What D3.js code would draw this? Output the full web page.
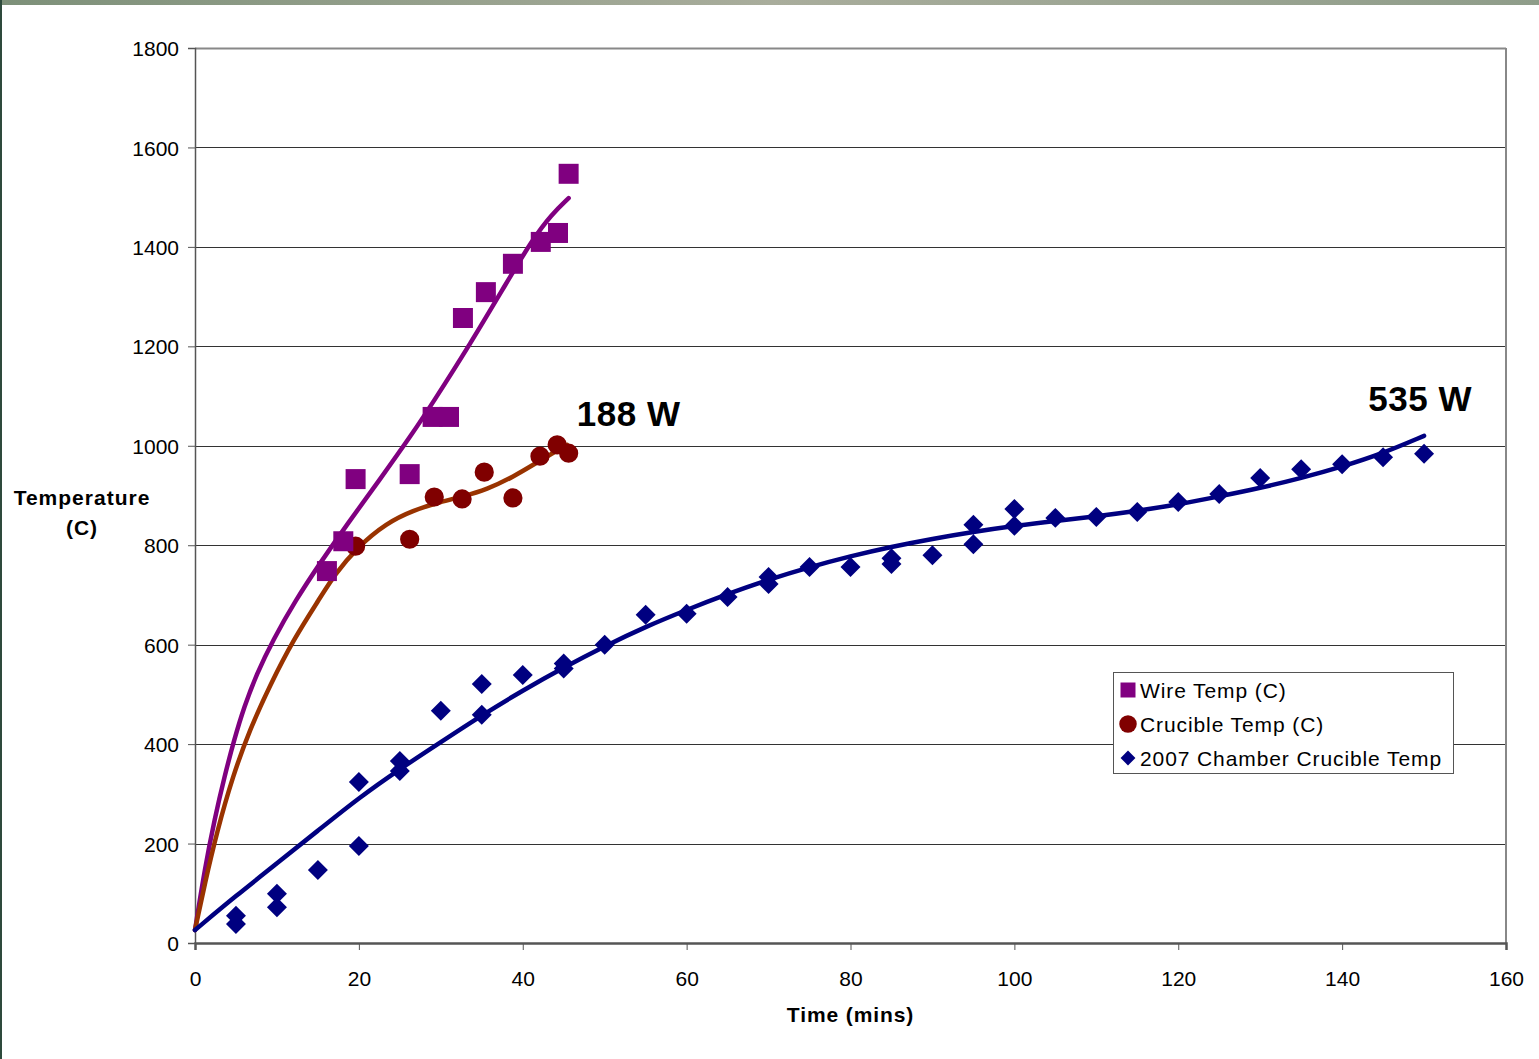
<!DOCTYPE html>
<html>
<head>
<meta charset="utf-8">
<script src="https://cdn.jsdelivr.net/npm/d3@7"></script>
<style>
  html, body { margin: 0; padding: 0; background: #fff; }
  svg { display: block; font-family: "Liberation Sans", Arial, sans-serif; }
</style>
</head>
<body>
<div id="chart"></div>
<script>
// measured points
const wireTemp = [
  [16.1, 748], [18.1, 808], [19.6, 933], [26.2, 943], [29.0, 1058], [31.0, 1058],
  [32.7, 1257], [35.5, 1309], [38.8, 1366], [42.2, 1410], [44.3, 1428], [45.6, 1547]
];
const crucibleTemp = [
  [19.6, 798], [26.2, 812], [29.2, 897], [32.6, 893], [35.3, 947],
  [38.8, 895], [42.1, 979], [44.2, 1002], [45.6, 985]
];
const chamberTemp = [
  [5, 55], [5, 38], [10, 99], [10, 72], [15, 147], [20, 195], [20, 324],
  [25, 366], [25, 346], [30, 467], [35, 521], [35, 459], [40, 539],
  [45, 552], [45, 562], [50, 600], [55, 660], [60, 662], [65, 696],
  [70, 736], [70, 722], [75, 756], [80, 756], [85, 774], [85, 762],
  [90, 780], [95, 841], [95, 802], [100, 873], [100, 839], [105, 855],
  [110, 857], [115, 867], [120, 887], [125, 903], [130, 935], [135, 953],
  [140, 963], [145, 977], [150, 984]
];

// trendlines
const wireTrend = [
  [0, 26], [1.2, 150], [2.4, 250], [3.6, 335], [4.8, 410], [6.0, 475], [7.5, 540],
  [9.5, 609], [12.3, 690], [15.3, 765], [18.6, 843], [22.6, 933], [26.6, 1026],
  [29.0, 1086], [33.6, 1205], [38.1, 1330], [41.2, 1415], [43.5, 1465], [45.6, 1498]
];
const crucibleTrend = [
  [0, 26], [1.2, 120], [2.7, 225], [4.6, 335], [6.7, 430], [9.2, 520], [12.0, 610],
  [15.3, 695], [17.0, 740], [19.8, 796], [23.4, 845], [26.6, 870], [29.9, 887],
  [32.7, 898], [35.6, 912], [38.8, 937], [42.1, 970], [45.4, 1002]
];
const chamberTrend = [
  [0, 26], [5, 95], [10, 160], [15, 226], [20, 292], [25, 350], [30, 404],
  [35, 458], [40, 508], [45, 554], [50, 597], [55, 636], [60, 670], [65, 702],
  [70, 731], [75, 756], [80, 778], [85, 797], [90, 813], [95, 827],
  [100, 839], [105, 849], [110, 858], [115, 869], [120, 882], [125, 898], [130, 915],
  [135, 935], [140, 958], [145, 985], [150, 1020]
];

const xTicks = [0, 20, 40, 60, 80, 100, 120, 140, 160];
const yTicks = [0, 200, 400, 600, 800, 1000, 1200, 1400, 1600, 1800];
const legendLabels = ['Wire Temp (C)', 'Crucible Temp (C)', '2007 Chamber Crucible Temp'];
const annotations = [
  {text: '188 W', x: 46.6, y: 1040},
  {text: '535 W', x: 143.2, y: 1070}
];

const width = 1539;
const height = 1059;
const margin = {left: 195, right: 33, top: 48, bottom: 116};

const svg = d3.select('#chart')
    .append('svg')
    .attr('width', width)
    .attr('height', height);

// background bits from the slide
const grad = svg.append('defs').append('linearGradient')
    .attr('id', 'strip')
    .attr('x1', '0').attr('x2', '1');
grad.append('stop').attr('offset', '0%').attr('stop-color', '#7d9079');
grad.append('stop').attr('offset', '50%').attr('stop-color', '#a9ad9c');
grad.append('stop').attr('offset', '100%').attr('stop-color', '#8f9d8a');
svg.append('rect').attr('width', width).attr('height', 5).attr('fill', 'url(#strip)');
svg.append('rect').attr('y', 0).attr('width', 2).attr('height', height).attr('fill', '#2e4a3c');

const x = d3.scaleLinear().domain([0, 160]).range([margin.left, width - margin.right]);
const y = d3.scaleLinear().domain([0, 1800]).range([height - margin.bottom, margin.top]);

// gridlines
svg.append('g')
    .selectAll('line')
    .data(yTicks.slice(1))
    .join('line')
    .attr('x1', x(0)).attr('x2', x(160))
    .attr('y1', d => Math.round(y(d)) + 0.5)
    .attr('y2', d => Math.round(y(d)) + 0.5)
    .attr('stroke', d => d === 1800 ? '#888' : '#333')
    .attr('stroke-width', d => d === 1800 ? 2 : 1);

// right border
svg.append('line')
    .attr('x1', x(160)).attr('x2', x(160))
    .attr('y1', y(1800)).attr('y2', y(0))
    .attr('stroke', '#888').attr('stroke-width', 2);

// axes
const yAxis = svg.append('g')
    .attr('transform', `translate(${x(0)},0)`)
    .call(d3.axisLeft(y).tickValues(yTicks).tickFormat(d3.format('d')).tickSize(7).tickPadding(9));
const xAxis = svg.append('g')
    .attr('transform', `translate(0,${y(0)})`)
    .call(d3.axisBottom(x).tickValues(xTicks).tickFormat(d3.format('d')).tickSize(7).tickPadding(21));

[yAxis, xAxis].forEach(a => {
  a.select('.domain').attr('stroke', '#555').attr('stroke-width', 1.5);
  a.selectAll('.tick line').attr('stroke', '#555');
  a.selectAll('text')
      .attr('font-family', '"Liberation Sans", Arial, sans-serif')
      .attr('font-size', 21)
      .attr('fill', '#000');
});
xAxis.select('.domain').attr('stroke-width', 2.5);
yAxis.selectAll('text').attr('dy', '0.36em');

// trendlines
const line = d3.line()
    .x(d => x(d[0]))
    .y(d => y(d[1]))
    .curve(d3.curveBasis);

const trends = [
  {data: wireTrend, color: '#800080'},
  {data: crucibleTrend, color: '#993300'},
  {data: chamberTrend, color: '#000080'}
];
svg.append('g')
    .selectAll('path')
    .data(trends)
    .join('path')
    .attr('d', d => line(d.data))
    .attr('fill', 'none')
    .attr('stroke', d => d.color)
    .attr('stroke-width', 4.5)
    .attr('stroke-linecap', 'round');

// markers
const square = d3.symbol().type(d3.symbolSquare).size(400);
const circle = d3.symbol().type(d3.symbolCircle).size(290);
const diamond = d3.symbol().type(d3.symbolSquare).size(200);

svg.append('g')
    .selectAll('path')
    .data(chamberTemp)
    .join('path')
    .attr('d', diamond)
    .attr('transform', d => `translate(${x(d[0])},${y(d[1])}) rotate(45)`)
    .attr('fill', '#000080');

svg.append('g')
    .selectAll('path')
    .data(crucibleTemp)
    .join('path')
    .attr('d', circle)
    .attr('transform', d => `translate(${x(d[0])},${y(d[1])})`)
    .attr('fill', '#800000');

svg.append('g')
    .selectAll('path')
    .data(wireTemp)
    .join('path')
    .attr('d', square)
    .attr('transform', d => `translate(${x(d[0])},${y(d[1])})`)
    .attr('fill', '#800080');

// annotations
svg.append('g')
    .selectAll('text')
    .data(annotations)
    .join('text')
    .attr('x', d => x(d.x))
    .attr('y', d => y(d.y))
    .attr('font-size', 35)
    .attr('font-weight', 'bold')
    .attr('letter-spacing', 0.5)
    .attr('fill', '#000')
    .text(d => d.text);

// axis titles
svg.append('text')
    .attr('x', (x(0) + x(160)) / 2)
    .attr('y', 1022)
    .attr('text-anchor', 'middle')
    .attr('font-size', 21)
    .attr('font-weight', 'bold')
    .attr('letter-spacing', 0.9)
    .text('Time (mins)');

const yTitle = svg.append('text')
    .attr('text-anchor', 'middle')
    .attr('font-size', 21)
    .attr('font-weight', 'bold')
    .attr('letter-spacing', 1);
yTitle.append('tspan').attr('x', 82).attr('y', 505).text('Temperature');
yTitle.append('tspan').attr('x', 82).attr('y', 535).text('(C)');

// legend
const legend = svg.append('g').attr('transform', 'translate(1113,672)');
legend.append('rect')
    .attr('x', 0.5).attr('y', 0.5)
    .attr('width', 340).attr('height', 101)
    .attr('fill', '#fff')
    .attr('stroke', '#555');

const legendSymbols = [
  {sym: d3.symbol().type(d3.symbolSquare).size(225), color: '#800080', rot: 0},
  {sym: d3.symbol().type(d3.symbolCircle).size(240), color: '#800000', rot: 0},
  {sym: d3.symbol().type(d3.symbolSquare).size(110), color: '#000080', rot: 45}
];
const item = legend.selectAll('g.item')
    .data(legendLabels)
    .join('g')
    .attr('class', 'item')
    .attr('transform', (d, i) => `translate(0,${18 + i * 34})`);
item.append('path')
    .attr('d', (d, i) => legendSymbols[i].sym())
    .attr('transform', (d, i) => `translate(15,0) rotate(${legendSymbols[i].rot})`)
    .attr('fill', (d, i) => legendSymbols[i].color);
item.append('text')
    .attr('x', 27)
    .attr('dy', '0.36em')
    .attr('font-size', 21)
    .attr('letter-spacing', 0.9)
    .attr('fill', '#000')
    .text(d => d);
</script>
</body>
</html>
